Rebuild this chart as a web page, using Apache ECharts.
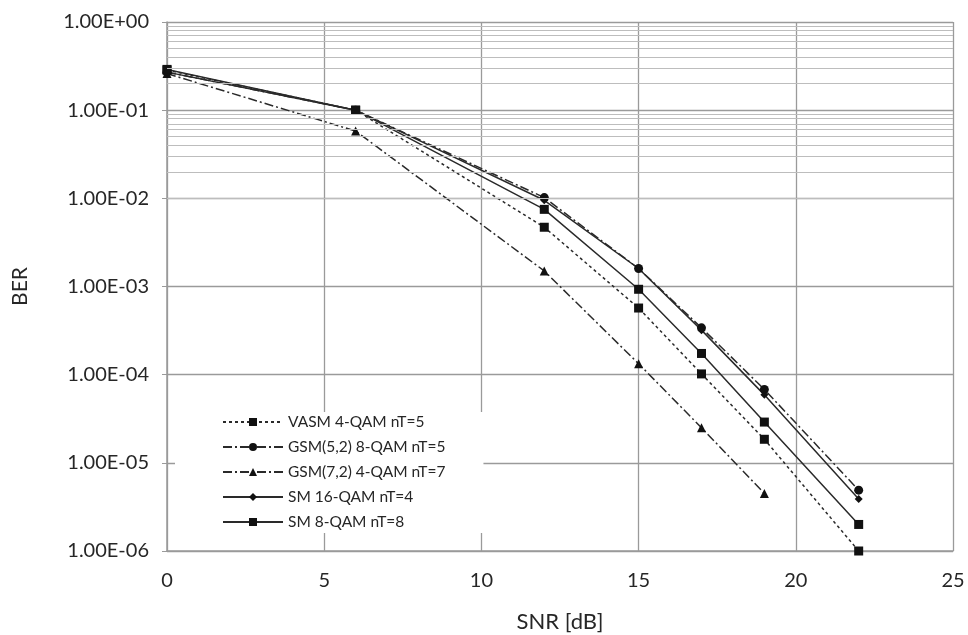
<!DOCTYPE html>
<html>
<head>
<meta charset="utf-8">
<script src="https://cdn.jsdelivr.net/npm/echarts@6/dist/echarts.min.js"></script>
<style>
  html, body { margin: 0; padding: 0; background: #fff; }
  #chart { width: 968px; height: 635px; }
</style>
</head>
<body>
<div id="chart"></div>
<script>
// SNR sample points (dB)
const snr = [0, 6, 12, 15, 17, 19, 22];
const snrGsm72 = [0, 6, 12, 15, 17, 19];

// Bit error rates per scheme
const vasm4qam = [0.285, 0.1, 4.7e-3, 5.7e-4, 1.02e-4, 1.85e-5, 1.0e-6];
const gsm52_8qam = [0.27, 0.1, 1.02e-2, 1.6e-3, 3.4e-4, 6.8e-5, 4.9e-6];
const gsm72_4qam = [0.26, 0.058, 1.5e-3, 1.33e-4, 2.5e-5, 4.5e-6];
const sm16qam = [0.27, 0.1, 9.5e-3, 1.6e-3, 3.2e-4, 5.9e-5, 3.9e-6];
const sm8qam = [0.29, 0.1, 7.5e-3, 9.3e-4, 1.74e-4, 2.9e-5, 2.0e-6];

const seriesNames = [
  'VASM 4-QAM nT=5',
  'GSM(5,2) 8-QAM nT=5',
  'GSM(7,2) 4-QAM nT=7',
  'SM 16-QAM nT=4',
  'SM 8-QAM nT=8'
];

// Minor gridline values between decades (2..9 x 10^e)
const minorGridValues = [];
for (let e = -6; e <= -1; e++) {
  for (let k = 2; k <= 9; k++) minorGridValues.push(+(k * Math.pow(10, e)).toPrecision(2));
}

const FONT = 'Lato, "Open Sans", sans-serif';
const TEXT = '#262626';

function pairs(xs, ys) { return ys.map((y, i) => [xs[i], y]); }

function sciLabel(v) {
  const e = Math.round(Math.log10(v));
  const m = v / Math.pow(10, e);
  const sign = e < 0 ? '-' : '+';
  const abs = Math.abs(e);
  return m.toFixed(2) + 'E' + sign + (abs < 10 ? '0' + abs : String(abs));
}

function lineSeries(name, xs, ys, symbol, size, dash) {
  return {
    name: name,
    type: 'line',
    data: pairs(xs, ys),
    symbol: symbol,
    symbolSize: size,
    z: 3,
    itemStyle: { color: '#111' },
    lineStyle: { color: '#2a2a2a', width: 1.5, type: dash },
    emphasis: { disabled: true }
  };
}

const chart = echarts.init(document.getElementById('chart'), null, { renderer: 'canvas' });

chart.setOption({
  animation: false,
  backgroundColor: '#ffffff',
  grid: { left: 167, right: 15, top: 22, bottom: 84, containLabel: false, outerBoundsMode: 'none' },
  legend: {
    data: seriesNames,
    orient: 'vertical',
    left: 175,
    top: 412,
    backgroundColor: '#ffffff',
    padding: [2, 38, 3, 47],
    itemWidth: 60,
    itemHeight: 10,
    itemGap: 9,
    textStyle: { fontFamily: FONT, fontSize: 15.5, color: TEXT },
    selectedMode: false
  },
  xAxis: {
    type: 'value',
    min: 0,
    max: 25,
    interval: 5,
    name: 'SNR [dB]',
    nameLocation: 'middle',
    nameGap: 60,
    nameTextStyle: { fontFamily: FONT, fontSize: 22, color: TEXT },
    axisLine: { show: true, lineStyle: { color: '#9a9a9a', width: 1.5 } },
    axisTick: { show: false },
    axisLabel: { fontFamily: FONT, fontSize: 20, color: TEXT, margin: 20 },
    splitLine: { show: true, lineStyle: { color: '#9a9a9a', width: 1.3 } }
  },
  yAxis: {
    type: 'log',
    logBase: 10,
    min: 1e-6,
    max: 1,
    interval: 1,
    name: 'BER',
    nameLocation: 'middle',
    nameGap: 136,
    nameTextStyle: { fontFamily: FONT, fontSize: 21, color: TEXT },
    axisLine: { show: true, lineStyle: { color: '#9a9a9a', width: 1.5 } },
    axisTick: { show: true, length: 5, lineStyle: { color: '#9a9a9a' } },
    axisLabel: { fontFamily: FONT, fontSize: 20, color: TEXT, margin: 18, formatter: sciLabel },
    splitLine: { show: true, lineStyle: { color: '#9a9a9a', width: 1.3 } }
  },
  series: [
    {
      name: 'minor-grid',
      type: 'line',
      data: [],
      z: 1,
      silent: true,
      markLine: {
        silent: true,
        symbol: ['none', 'none'],
        label: { show: false },
        animation: false,
        lineStyle: { color: '#bdbdbd', width: 1, type: 'solid' },
        emphasis: { disabled: true },
        data: minorGridValues.map(v => ({ yAxis: v }))
      }
    },
    lineSeries(seriesNames[0], snr, vasm4qam, 'rect', 9, [3, 3]),
    lineSeries(seriesNames[1], snr, gsm52_8qam, 'circle', 9, [9, 3, 2, 3]),
    lineSeries(seriesNames[2], snrGsm72, gsm72_4qam, 'triangle', 9, [9, 3, 2, 3]),
    lineSeries(seriesNames[3], snr, sm16qam, 'diamond', 8, 'solid'),
    lineSeries(seriesNames[4], snr, sm8qam, 'rect', 9, 'solid')
  ]
});
</script>
</body>
</html>
